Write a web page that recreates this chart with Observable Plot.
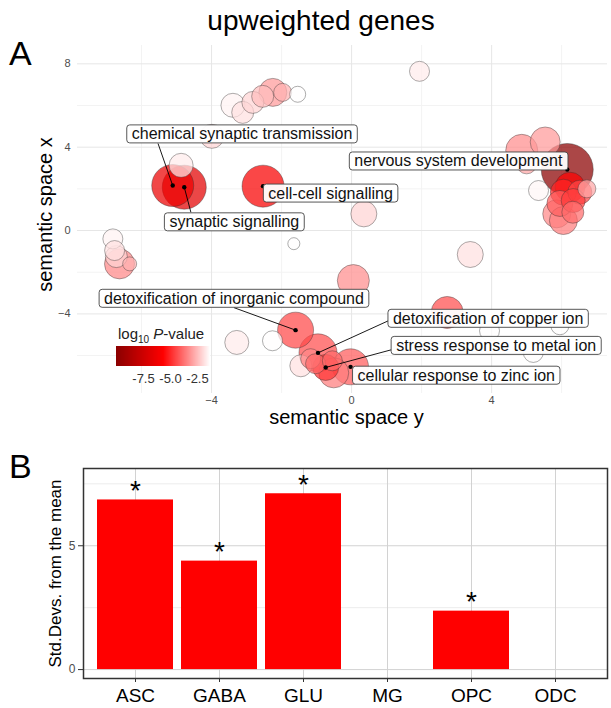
<!DOCTYPE html>
<html><head><meta charset="utf-8">
<script src="https://cdn.jsdelivr.net/npm/d3@7"></script>
<script src="https://cdn.jsdelivr.net/npm/@observablehq/plot@0.6"></script>
<style>
body{margin:0;background:#fff;font-family:"Liberation Sans",Arial,Helvetica,sans-serif;}
#wrap{position:relative;width:611px;height:708px;overflow:hidden;background:#fff;}
.abs{position:absolute;}
#title{left:321px;top:7px;transform:translateX(-50%);font-size:28px;line-height:1;white-space:nowrap;color:#000;}
.panel{font-size:34px;line-height:1;color:#000;}
#legTitle{left:118px;top:326px;font-size:15px;line-height:1;color:#222;white-space:nowrap;}
#legTitle sub{font-size:10px;}
</style></head><body>
<div id="wrap">
  <div id="title" class="abs">upweighted genes</div>
  <div class="abs panel" style="left:9px;top:36px;">A</div>
  <div class="abs panel" style="left:9px;top:449px;">B</div>
  <div id="legTitle" class="abs">log<sub>10</sub> <i>P</i>-value</div>
</div>
<script>
// ---------- Panel A data (REVIGO semantic space) ----------
const termX = [-3.39,-3.11,-2.82,-2.54,-2.25,-1.97,-1.54,-3.99,-4.87,-5.11,-4.78,-2.53,-1.65,-6.82,-6.77,-6.72,-6.63,-6.34,1.94,4.86,5.53,5.00,6.16,5.34,6.24,6.05,6.52,6.72,5.95,6.33,5.86,6.05,6.32,0.35,3.39,0.05,-3.28,-2.26,-1.60,-0.96,-0.74,-0.03,-1.45,-1.17,-1.03,-0.55,-0.51,2.73,3.94,5.19,5.95];
const termY = [6.01,5.67,6.15,6.44,6.63,6.63,6.54,4.52,3.13,2.16,2.08,2.13,-0.63,-0.40,-0.96,-1.25,-1.60,-1.60,7.64,3.85,4.25,3.20,2.93,1.92,2.08,1.84,1.84,2.00,1.30,1.44,0.80,0.48,0.88,0.80,-1.15,-2.40,-5.37,-5.29,-4.78,-5.87,-6.57,-6.54,-6.49,-6.15,-6.39,-6.25,-6.83,-3.93,-4.81,-5.85,-4.57];
const termLogSize = [2.4,2.2,2.2,2.2,2.8,1.8,1.6,2.4,2.4,4.2,4.4,4.2,1.2,2.0,2.0,2.2,3.0,1.4,2.0,3.2,3.0,2.0,5.2,2.0,3.0,2.6,2.4,1.8,2.6,2.4,2.8,2.8,2.2,2.6,2.6,3.2,2.4,2.0,3.6,3.8,2.6,3.6,2.2,2.0,2.0,2.0,3.0,3.2,2.0,2.0,1.8];
const termLogP = [-1.5,-1.8,-2.0,-2.4,-3.0,-2.6,-1.3,-2.0,-1.6,-6.4,-6.7,-5.9,-1.3,-1.5,-1.8,-2.0,-3.3,-2.6,-1.6,-3.2,-3.0,-2.8,-10,-1.4,-5.6,-5.0,-4.4,-2.8,-4.0,-4.6,-3.3,-3.5,-3.8,-2.0,-1.8,-3.2,-1.6,-1.3,-4.4,-4.3,-4.8,-4.1,-1.8,-3.3,-3.8,-3.8,-3.5,-4.3,-1.3,-1.3,-1.3];

// labelled terms
const labelTerm = [9,10,11,22,38,39,40,41];
const labelText = ["chemical synaptic transmission","synaptic signalling","cell-cell signalling","nervous system development","detoxification of inorganic compound","detoxification of copper ion","stress response to metal ion","cellular response to zinc ion"];
const labelX = [-3.13,-3.35,-0.60,3.05,-3.36,3.90,4.13,2.99];
const labelY = [4.62,0.40,1.78,3.32,-3.27,-4.23,-5.53,-6.96];
const lineX = [-5.53,-4.59,null,null,-3.36,1.05,1.14,null];
const lineY = [4.18,0.87,null,null,-3.70,-4.33,-5.72,null];

// axes / legend for panel A
const xTicksA = [-4,0,4];
const yTicksA = [-4,0,4,8];
const minorXA = [-6,-2,2,6];
const minorYA = [-6,-2,2,6];
const legendLimits = [-10,-1.27];
const legendTicks = [-7.5,-5.0,-2.5];

// ---------- Panel B data ----------
const cellTypes = ["ASC","GABA","GLU","MG","OPC","ODC"];
const stdDevs = [6.85,4.38,7.10,0,2.36,0];
const signif = ["*","*","*","","*",""];
const yTicksB = [0,5];
const minorYB = [2.5,7.5];

// ---------- build ----------
const FONT = '"Liberation Sans", Arial, Helvetica, sans-serif';
const terms = termX.map((x,i)=>({x, y:termY[i], size:termLogSize[i], logp:termLogP[i]}));
const labels = labelText.map((name,i)=>({name, lx:labelX[i], ly:labelY[i], sx:lineX[i], sy:lineY[i], px:termX[labelTerm[i]], py:termY[labelTerm[i]]}));
const colorOpts = {type:"linear", domain:[legendLimits[0],(legendLimits[0]+legendLimits[1])/2,legendLimits[1]], range:["#8b0000","#ff0000","#ffffff"], interpolate:"rgb"};

const plotA = Plot.plot({
  width:611, height:400, marginTop:5, marginRight:4, marginBottom:47, marginLeft:77,
  style:{fontFamily:FONT, fontSize:"11px", background:"transparent", color:"black"},
  x:{domain:[-7.83,7.31]},
  y:{domain:[-7.82,8.88]},
  r:{type:"linear", domain:[0,5], range:[0,25]},
  color:colorOpts,
  marks:[
    Plot.gridX(minorXA,{stroke:"#f3f3f3", strokeOpacity:1}),
    Plot.gridY(minorYA,{stroke:"#f3f3f3", strokeOpacity:1}),
    Plot.gridX(xTicksA,{stroke:"#e6e6e6", strokeOpacity:1}),
    Plot.gridY(yTicksA,{stroke:"#e6e6e6", strokeOpacity:1}),
    Plot.axisX(xTicksA,{tickSize:0, tickPadding:3, fill:"#4d4d4d", label:null}),
    Plot.axisY(yTicksA,{tickSize:0, tickPadding:7, fill:"#4d4d4d", label:null}),
    Plot.dot(terms,{x:"x", y:"y", r:"size", fill:"logp", fillOpacity:0.72, stroke:"#333", strokeOpacity:0.4, strokeWidth:1}),
    Plot.link(labels.filter(d=>d.sx!=null),{x1:"sx", y1:"sy", x2:"px", y2:"py", stroke:"black", strokeWidth:0.9}),
    Plot.dot(labels,{x:"px", y:"py", r:2.2, fill:"black"}),
    Plot.text(labels,{x:"lx", y:"ly", text:"name", fontSize:16, fill:"#111"}),
    Plot.text(["semantic space y"],{text:d=>d, frameAnchor:"bottom", textAnchor:"middle", dy:30, dx:4, fontSize:20, fill:"black"}),
    Plot.text(["semantic space x"],{text:d=>d, frameAnchor:"left", textAnchor:"middle", rotate:-90, dx:-32, dy:-5, fontSize:20, fill:"black"})
  ]
});
plotA.style.position="absolute"; plotA.style.left="0px"; plotA.style.top="40px";

const bars = cellTypes.map((t,i)=>({type:t, value:stdDevs[i], sig:signif[i]}));
const plotB = Plot.plot({
  width:611, height:268, marginTop:28, marginRight:4, marginBottom:30, marginLeft:83,
  style:{fontFamily:FONT, fontSize:"12px", background:"transparent", color:"black"},
  x:{domain:cellTypes, paddingInner:0.1, paddingOuter:0.15},
  y:{domain:[-0.36,8.12]},
  marks:[
    Plot.gridY(minorYB,{stroke:"#ececec", strokeOpacity:1}),
    Plot.gridY(yTicksB,{stroke:"#d2d2d2", strokeOpacity:1}),
    Plot.gridX(cellTypes,{stroke:"#d2d2d2", strokeOpacity:1}),
    Plot.barY(bars,{x:"type", y:"value", fill:"#ff0000"}),
    Plot.text(bars,{x:"type", y:"value", text:"sig", dy:-9, fontSize:28, fill:"black"}),
    Plot.frame({stroke:"#333", strokeWidth:1.5}),
    Plot.axisX({tickSize:4, tickPadding:6, fontSize:19, fill:"black", stroke:"#333", label:null}),
    Plot.axisY(yTicksB,{tickSize:5, tickPadding:3, fontSize:12, fill:"#4d4d4d", stroke:"#333", label:null}),
    Plot.text(["Std.Devs. from the mean"],{text:d=>d, frameAnchor:"left", textAnchor:"middle", rotate:-90, dx:-28, fontSize:17, fill:"black"})
  ]
});
plotB.style.position="absolute"; plotB.style.left="0px"; plotB.style.top="440px";

const leg = Plot.legend({color:colorOpts, width:94, height:38, marginTop:0, marginBottom:18, marginLeft:0, marginRight:0,
  ticks:legendTicks, tickSize:5, tickFormat:d=>d.toFixed(1), label:null,
  style:{fontFamily:FONT, fontSize:"13px", color:"#333", background:"transparent", overflow:"visible"}});
leg.style.position="absolute"; leg.style.left="116px"; leg.style.top="346px"; leg.style.overflow="visible";

const wrap = document.getElementById("wrap");
wrap.insertBefore(plotA, wrap.firstChild);
wrap.appendChild(plotB);
wrap.appendChild(leg);
leg.querySelectorAll(".tick line").forEach(l=>l.remove());

// white boxes behind the term labels
const labelSet = new Set(labelText);
plotA.querySelectorAll("text").forEach(t=>{
  if (!labelSet.has(t.textContent)) return;
  const b = t.getBBox();
  const r = document.createElementNS("http://www.w3.org/2000/svg","rect");
  r.setAttribute("x", b.x-5); r.setAttribute("y", b.y-0.5);
  r.setAttribute("width", b.width+10); r.setAttribute("height", b.height+1);
  r.setAttribute("rx", 3); r.setAttribute("fill","white"); r.setAttribute("fill-opacity","0.95");
  r.setAttribute("stroke","#444"); r.setAttribute("stroke-width","0.9");
  const tr = t.getAttribute("transform"); if (tr) r.setAttribute("transform", tr);
  t.parentNode.insertBefore(r, t);
});
</script>
</body></html>
